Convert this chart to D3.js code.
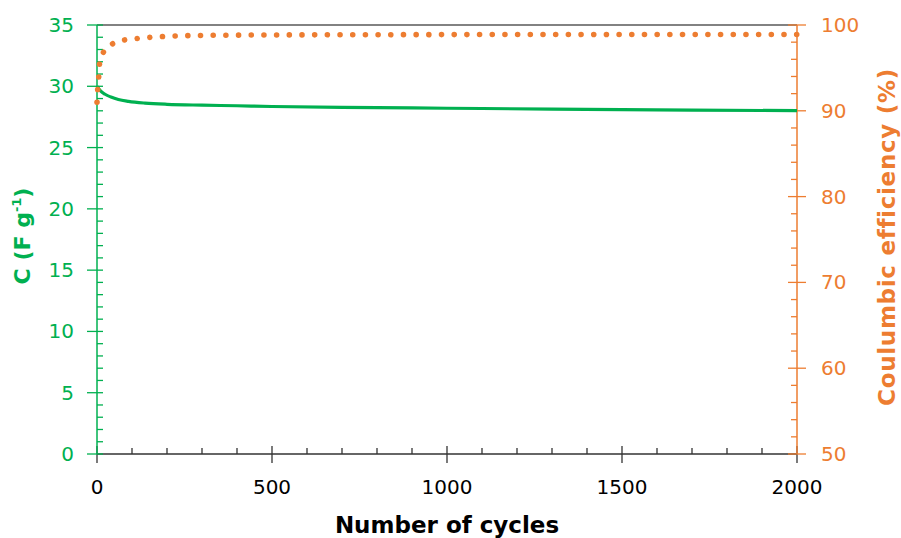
<!DOCTYPE html>
<html><head><meta charset="utf-8">
<script src="https://cdn.jsdelivr.net/npm/d3@7"></script>
<style>body{margin:0;background:#fff}svg{display:block}</style>
</head><body>
<svg id="c" width="901" height="538"></svg>
<script>
const cCycles = [0, 10, 23, 40, 61, 90, 137, 200, 300, 400, 500, 700, 1000, 1300, 1500, 1700, 2000];
const cValues = [30.0, 29.62, 29.35, 29.12, 28.92, 28.77, 28.63, 28.53, 28.46, 28.41, 28.35, 28.28, 28.21, 28.14, 28.1, 28.06, 28.01];
const ceCycles = [0, 2, 5, 7, 18, 44, 78, 115, 151, 187, 223, 294, 400, 600, 1000, 1500, 2000];
const ceValues = [91.0, 92.5, 94.0, 95.4, 96.8, 97.8, 98.25, 98.42, 98.56, 98.66, 98.72, 98.78, 98.82, 98.85, 98.88, 98.9, 98.9];
const xTicks = [0, 500, 1000, 1500, 2000];
const yLeftTicks = [0, 5, 10, 15, 20, 25, 30, 35];
const yRightTicks = [50, 60, 70, 80, 90, 100];

const GREEN = "#00b050", ORANGE = "#ed7d31";
const FONT = "'DejaVu Sans', sans-serif";
const L = 97, R = 797, T = 25, B = 454;
const svg = d3.select("#c");
const x = d3.scaleLinear().domain([0, 2000]).range([L, R]);
const yL = d3.scaleLinear().domain([0, 35]).range([B, T]);
const yR = d3.scaleLinear().domain([50, 100]).range([B, T]);

// top border
svg.append("line").attr("x1", L).attr("x2", R).attr("y1", T).attr("y2", T)
  .attr("stroke", "#595959").attr("stroke-width", 1.5);

// x axis
const gx = svg.append("g").attr("transform", `translate(0,${B})`);
gx.append("line").attr("x1", L).attr("x2", R).attr("stroke", "#333").attr("stroke-width", 1.5);
gx.selectAll(".mn").data(d3.range(0, 2001, 100).filter(v => v % 500)).join("line")
  .attr("x1", d => x(d)).attr("x2", d => x(d)).attr("y1", 0).attr("y2", -6)
  .attr("stroke", "#333").attr("stroke-width", 1.3);
gx.selectAll(".mj").data(xTicks).join("line")
  .attr("x1", d => x(d)).attr("x2", d => x(d)).attr("y1", -8).attr("y2", 9)
  .attr("stroke", "#333").attr("stroke-width", 1.3);
gx.selectAll("text").data(xTicks).join("text")
  .attr("x", d => x(d)).attr("y", 40).attr("text-anchor", "middle")
  .attr("font-family", FONT).attr("font-size", 20).attr("fill", "#000").text(d => d);

// left axis
const gl = svg.append("g").attr("transform", `translate(${L},0)`);
gl.append("line").attr("y1", T).attr("y2", B).attr("stroke", GREEN).attr("stroke-width", 1.5);
gl.selectAll(".mn").data(d3.range(0, 35, 1).filter(v => v % 5)).join("line")
  .attr("y1", d => yL(d)).attr("y2", d => yL(d)).attr("x1", 0).attr("x2", 6)
  .attr("stroke", GREEN).attr("stroke-width", 1.3);
gl.selectAll(".mj").data(yLeftTicks).join("line")
  .attr("y1", d => yL(d)).attr("y2", d => yL(d)).attr("x1", -10).attr("x2", 6)
  .attr("stroke", GREEN).attr("stroke-width", 1.3);
gl.selectAll("text").data(yLeftTicks).join("text")
  .attr("x", -23).attr("y", d => yL(d) + 7).attr("text-anchor", "end")
  .attr("font-family", FONT).attr("font-size", 20).attr("fill", GREEN).text(d => d);

// right axis
const gr = svg.append("g").attr("transform", `translate(${R},0)`);
gr.append("line").attr("y1", T).attr("y2", B).attr("stroke", ORANGE).attr("stroke-width", 1.5);
gr.selectAll(".mn").data(d3.range(50, 100, 2).filter(v => v % 10)).join("line")
  .attr("y1", d => yR(d)).attr("y2", d => yR(d)).attr("x1", -6).attr("x2", 0)
  .attr("stroke", ORANGE).attr("stroke-width", 1.3);
gr.selectAll(".mj").data(yRightTicks).join("line")
  .attr("y1", d => yR(d)).attr("y2", d => yR(d)).attr("x1", -9).attr("x2", 9)
  .attr("stroke", ORANGE).attr("stroke-width", 1.3);
gr.selectAll("text").data(yRightTicks).join("text")
  .attr("x", 24).attr("y", d => yR(d) + 7).attr("text-anchor", "start")
  .attr("font-family", FONT).attr("font-size", 20).attr("fill", ORANGE).text(d => d);

// data
const lineC = d3.line().x(d => x(d[0])).y(d => yL(d[1])).curve(d3.curveMonotoneX);
svg.append("path").datum(cCycles.map((c, i) => [c, cValues[i]]))
  .attr("d", lineC).attr("fill", "none").attr("stroke", GREEN).attr("stroke-width", 3.2)
  .attr("stroke-linejoin", "round");
const lineCE = d3.line().x(d => x(d[0])).y(d => yR(d[1])).curve(d3.curveMonotoneX);
const ceP = svg.append("path").datum(ceCycles.map((c, i) => [c, ceValues[i]]))
  .attr("d", lineCE).attr("fill", "none").attr("stroke", ORANGE).attr("stroke-width", 5.6)
  .attr("stroke-linecap", "round");
const len = ceP.node().getTotalLength();
const gap = (len / Math.round(len / 12.7)) * 0.9995;
ceP.attr("stroke-dasharray", `0.01 ${gap - 0.01}`);

// axis titles
svg.append("text").attr("x", (L + R) / 2).attr("y", 533).attr("text-anchor", "middle")
  .attr("font-family", FONT).attr("font-weight", "bold").attr("font-size", 23).attr("fill", "#000")
  .text("Number of cycles");
const tl = svg.append("text").attr("transform", "translate(30,236) rotate(-90)")
  .attr("text-anchor", "middle").attr("font-family", FONT).attr("font-weight", "bold")
  .attr("font-size", 22).attr("fill", GREEN);
tl.append("tspan").text("C (F g");
tl.append("tspan").attr("dy", -9).attr("font-size", 13).text("-1");
tl.append("tspan").attr("dy", 9).text(")");
svg.append("text").attr("transform", "translate(895,237) rotate(-90)")
  .attr("text-anchor", "middle").attr("font-family", FONT).attr("font-weight", "bold")
  .attr("font-size", 23).attr("letter-spacing", 0.7).attr("fill", ORANGE).text("Coulumbic efficiency (%)");
</script>
</body></html>
